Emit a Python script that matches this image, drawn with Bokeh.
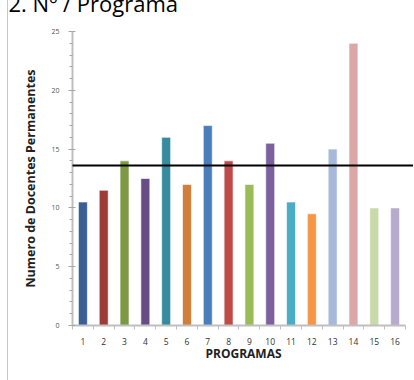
from bokeh.plotting import figure
from bokeh.models import ColumnDataSource, FixedTicker, BoxAnnotation, Range1d
from bokeh.embed import file_html
from bokeh.resources import INLINE

programas = [str(i) for i in range(1, 17)]
docentes = [10.5, 11.5, 14, 12.5, 16, 12, 17, 14, 12, 15.5, 10.5, 9.5, 15, 24, 10, 10]
media = 13.6
cores = ["#3A5F94", "#9E3B39", "#7D9A42", "#664E85", "#368C9E", "#D07E3A",
         "#4A7EBB", "#BE4B48", "#9BBB59", "#7D60A0", "#4BACC6", "#F79646",
         "#A7B9DB", "#DBA8A7", "#C9D9A9", "#B7ABCC"]
y_ticks = [0, 5, 10, 15, 20, 25]
titulo = "2. Nº / Programa"

SHIFT = 52  # figure is shifted up so the title is cut at the top, as in the source
LEFT = 8    # page margin + thin border line on the left

xs = list(range(1, len(programas) + 1))
src = ColumnDataSource(dict(x=xs, top=docentes, color=cores))

p = figure(width=414 - LEFT, height=380 + SHIFT, output_backend="svg", toolbar_location=None,
           x_range=Range1d(0.5, len(programas) + 0.5 + 9 / 20.8), y_range=Range1d(0, 25),
           min_border_left=72 - LEFT, min_border_right=0, min_border_top=31 + SHIFT,
           min_border_bottom=55, title=titulo,
           styles={"margin-top": f"-{SHIFT}px", "margin-left": f"{LEFT - 1}px",
                   "border-left": "1px solid #C8C8C8"})
p.outline_line_color = None
p.grid.grid_line_color = None
p.background_fill_color = "white"
p.border_fill_color = "white"

p.title.text_font = "Open Sans"
p.title.text_font_size = "22px"
p.title.text_font_style = "normal"
p.title.text_color = "black"
p.title.align = "left"
p.title.offset = -(72 - LEFT)
p.title.standoff = 27

p.vbar(x="x", top="top", width=0.43, fill_color="color", line_color="white",
       line_alpha=0.6, line_width=1, source=src)

# x axis
p.xaxis.bounds = (0.5, len(programas) + 0.5)
p.xaxis.ticker = FixedTicker(ticks=xs, minor_ticks=[x - 0.5 for x in xs] + [xs[-1] + 0.5])
p.xaxis.major_label_overrides = {x: lab for x, lab in zip(xs, programas)}
p.xaxis.major_tick_line_color = None
p.xaxis.minor_tick_line_color = "#BFBFBF"
p.xaxis.minor_tick_out = 4
p.xaxis.minor_tick_in = 0
p.xaxis.axis_line_color = "#BFBFBF"
p.xaxis.axis_line_width = 2
p.xaxis.major_label_text_font = "Open Sans"
p.xaxis.major_label_text_font_size = "8.5px"
p.xaxis.major_label_text_color = "#333333"
p.xaxis.major_label_standoff = 6
p.xaxis.axis_label = "PROGRAMAS"
p.xaxis.axis_label_text_font = "Open Sans"
p.xaxis.axis_label_text_font_style = "bold"
p.xaxis.axis_label_text_font_size = "12px"
p.xaxis.axis_label_text_color = "#222222"
p.xaxis.axis_label_standoff = -3

# y axis
p.yaxis.ticker = FixedTicker(ticks=y_ticks, minor_ticks=list(range(0, 26)))
p.yaxis.axis_line_color = "#BFBFBF"
p.yaxis.axis_line_width = 2
p.yaxis.major_tick_line_color = "#A6A6A6"
p.yaxis.major_tick_in = 3
p.yaxis.major_tick_out = 4
p.yaxis.minor_tick_line_color = "#A6A6A6"
p.yaxis.minor_tick_in = 0
p.yaxis.minor_tick_out = 3
p.yaxis.major_label_text_font = "Open Sans"
p.yaxis.major_label_text_font_size = "7px"
p.yaxis.major_label_text_color = "#555555"
p.yaxis.major_label_standoff = 9
p.yaxis.axis_label = "Numero de Docentes Permanentes"
p.yaxis.axis_label_text_font = "Open Sans"
p.yaxis.axis_label_text_font_style = "bold"
p.yaxis.axis_label_text_font_size = "12.5px"
p.yaxis.axis_label_text_color = "#222222"
p.yaxis.axis_label_standoff = 9

# reference line
p.add_layout(BoxAnnotation(left=0.15, right=len(programas) + 1, bottom=media, top=media,
                           fill_alpha=0, line_color="black", line_alpha=1.0, line_width=2,
                           level="overlay"))

open("out.html", "w").write(file_html(p, INLINE))
